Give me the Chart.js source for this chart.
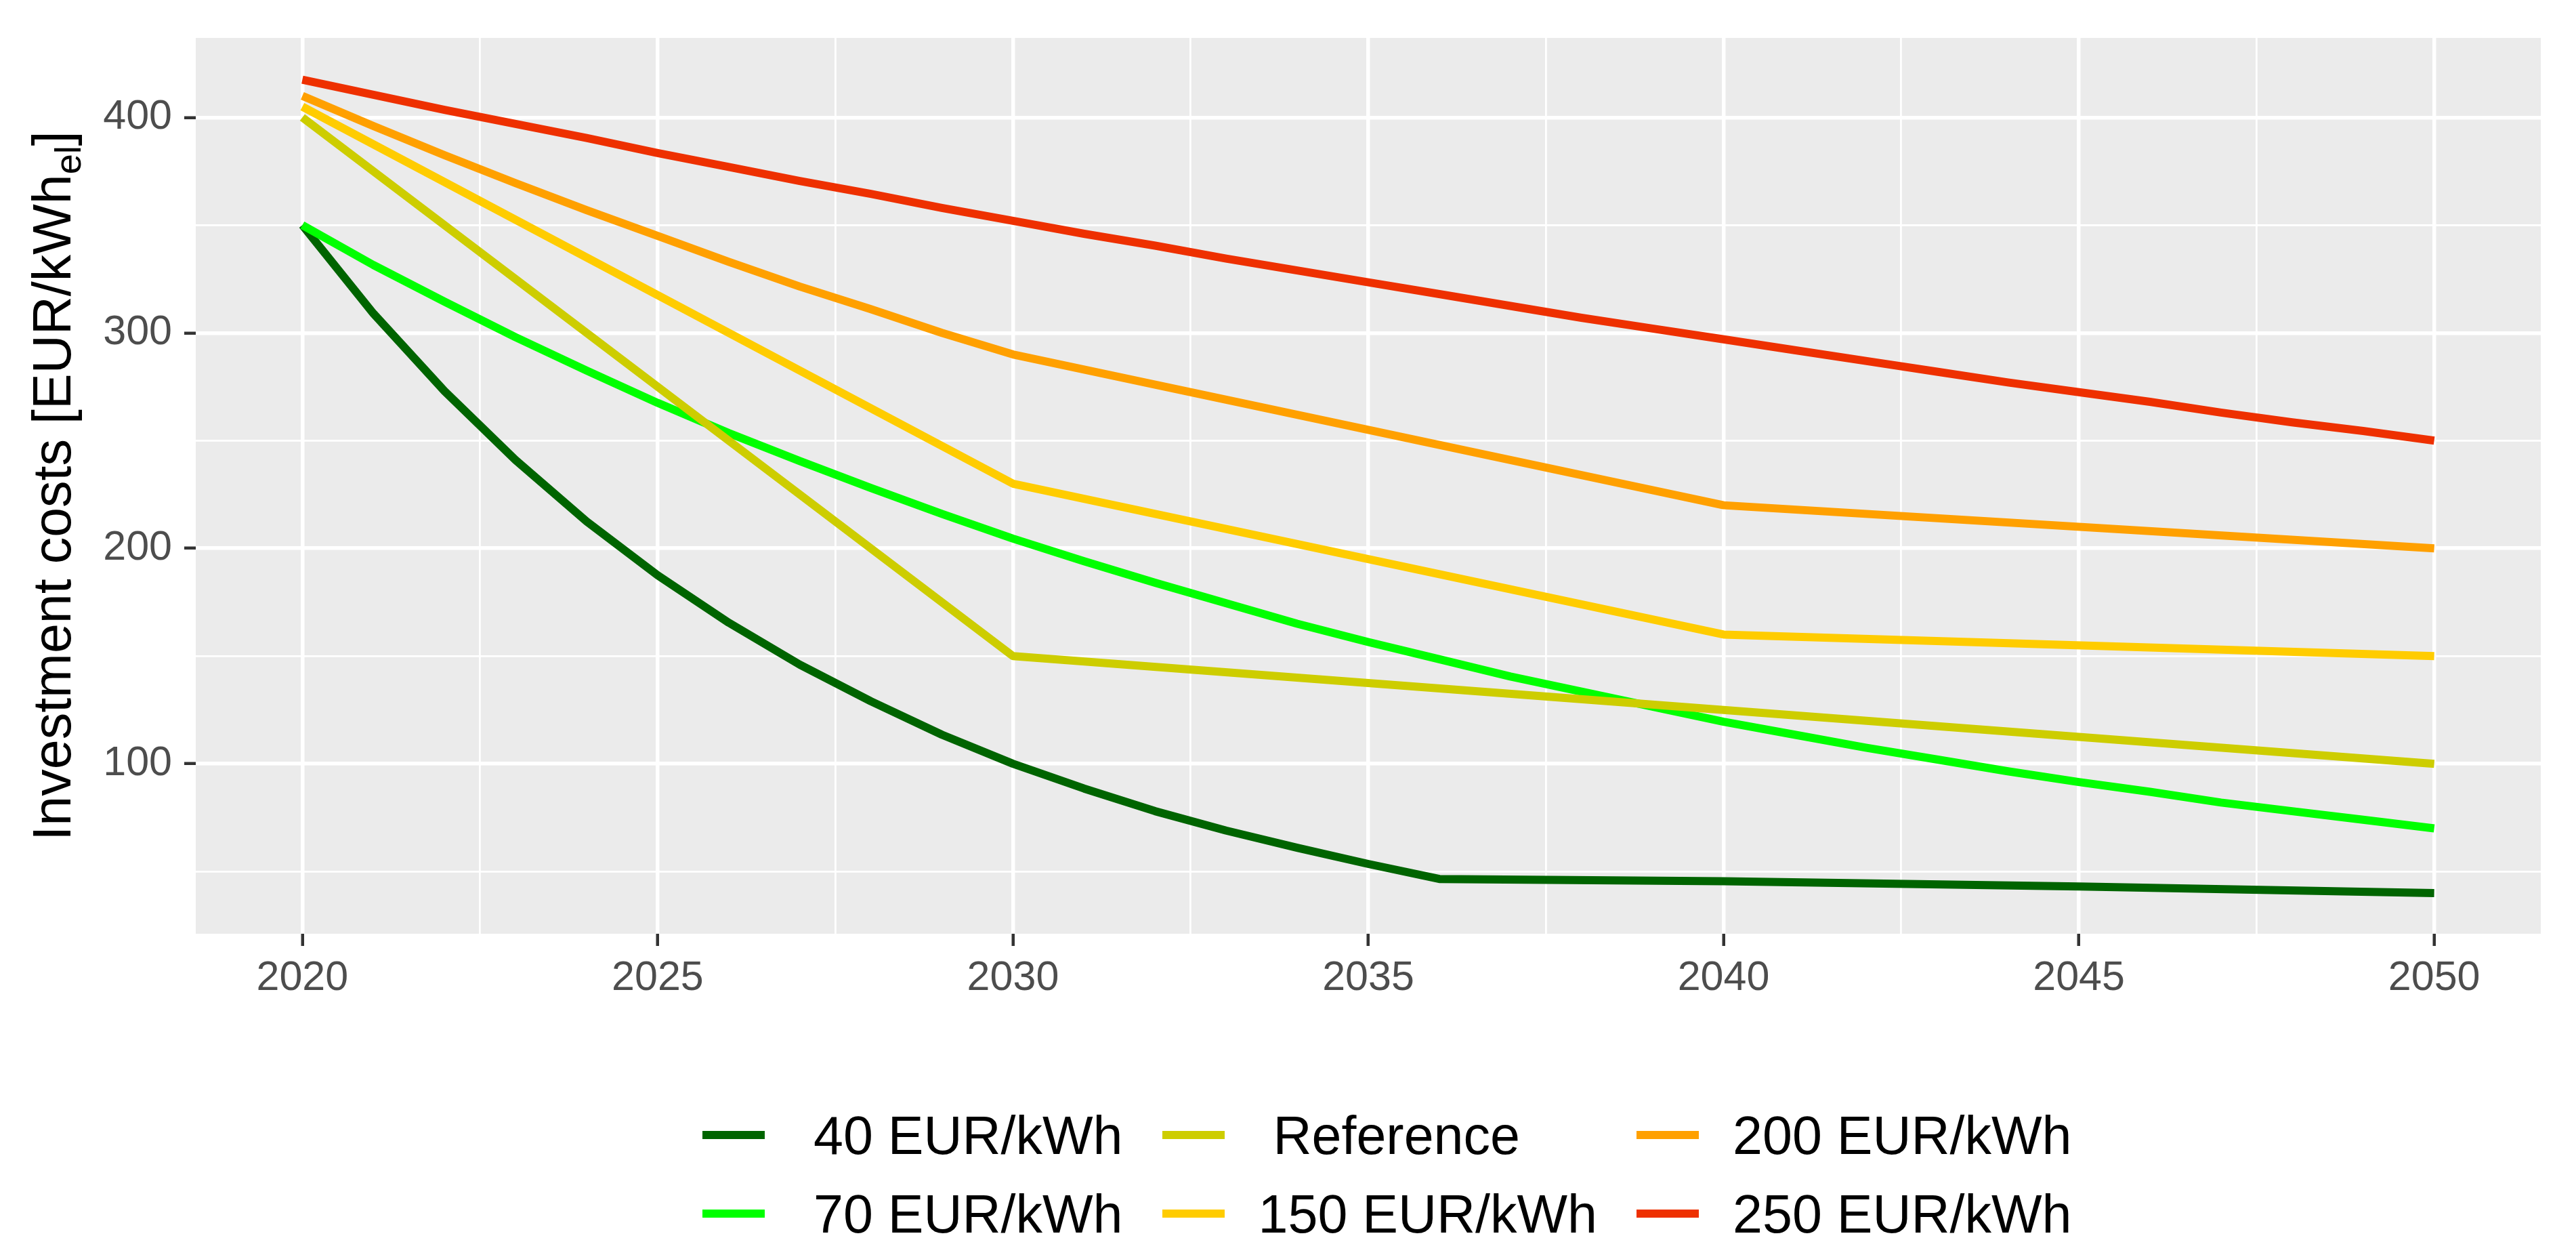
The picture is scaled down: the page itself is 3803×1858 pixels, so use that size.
<!DOCTYPE html>
<html lang="en">
<head>
  <meta charset="UTF-8">
  <title>Investment costs</title>
  <script src="https://cdn.jsdelivr.net/npm/chart.js"></script>
  <style>
    body {
      margin: 0;
      background-color: #fff;
    }

    #wrap {
      position: relative;
      width: 3803px;
      height: 1858px;
      font-family: "Liberation Sans", Arial, sans-serif;
    }

    #legend {
      position: absolute;
      left: 1037px;
      top: 1617px;
      display: grid;
      grid-template-rows: 116px 116px;
      grid-auto-flow: column;
      column-gap: 58px;
    }

    .item {
      display: flex;
      align-items: center;
    }

    .key {
      width: 92px;
      height: 12px;
      margin-right: 50px;
    }

    .lbl {
      font-size: 79px;
      line-height: 79px;
      white-space: pre;
      color: #000;
    }
  </style>
</head>

<body>
  <div id="wrap">
    <canvas id="costChart" width="3803" height="1858"></canvas>
    <div id="legend"></div>
  </div>

  <script>
    // years on the x axis
    const years = [2020, 2021, 2022, 2023, 2024, 2025, 2026, 2027, 2028, 2029, 2030,
      2031, 2032, 2033, 2034, 2035, 2036, 2037, 2038, 2039, 2040,
      2041, 2042, 2043, 2044, 2045, 2046, 2047, 2048, 2049, 2050];

    // investment costs per scenario (null = straight segment between read points)
    const cost40 = [350, 309, 273, 241, 212.5, 187.5, 165.5, 146, 129, 113.5, 100,
      88.5, 78, 69, 61, 53.5, 46.5, null, null, null, 45.5,
      null, null, null, null, 43, null, null, null, null, 40];
    const cost70 = [350, 331.5, 314.5, 298, 282.5, 267.5, 253.5, 240.5, 228, 216, 204.5,
      194, 184, 174.5, 165, 156.5, 148.5, 140.5, 133.5, 126.5, 119.5,
      113.5, 107.5, 102, 96.5, 91.5, 87, 82, 78, 74, 70];
    const costRef = [400, null, null, null, null, null, null, null, null, null, 150,
      null, null, null, null, null, null, null, null, null, null,
      null, null, null, null, null, null, null, null, null, 100];
    const cost150 = [405, null, null, null, null, null, null, null, null, null, 230,
      null, null, null, null, null, null, null, null, null, 160,
      null, null, null, null, null, null, null, null, null, 150];
    const cost200 = [410, 396, 382.5, 369.5, 357, 345, 333, 321.5, 311, 300, 290,
      null, null, null, null, null, null, null, null, null, 220,
      null, null, null, null, null, null, null, null, null, 200];
    const cost250 = [417.5, 410.5, 403.5, 397, 390.5, 383.5, 377, 370.5, 364.5, 358, 352,
      346, 340.5, 334.5, 329, 323.5, 318, 312.5, 307, 302, 297,
      292, 287, 282, 277, 272.5, 268, 263, 258.5, 254.5, 250];

    const seriesLabels = [' 40 EUR/kWh', ' 70 EUR/kWh', ' Reference', '150 EUR/kWh', '200 EUR/kWh', '250 EUR/kWh'];
    const seriesValues = [cost40, cost70, costRef, cost150, cost200, cost250];
    const seriesColors = ['#006400', '#00FF00', '#CDCD00', '#FFCC00', '#FFA000', '#EE3000'];

    // tick positions (major + minor)
    const xTicks = [2020, 2022.5, 2025, 2027.5, 2030, 2032.5, 2035, 2037.5, 2040, 2042.5, 2045, 2047.5, 2050];
    const yTicks = [50, 100, 150, 200, 250, 300, 350, 400];

    const panelBg = {
      id: 'panelBg',
      beforeDraw(chart) {
        const { ctx, chartArea: a } = chart;
        ctx.save();
        ctx.fillStyle = '#EBEBEB';
        ctx.fillRect(a.left, a.top, a.right - a.left, a.bottom - a.top);
        ctx.restore();
      }
    };

    // y title with subscript "el"
    const yTitle = {
      id: 'yTitle',
      afterDraw(chart) {
        const ctx = chart.ctx;
        const a = chart.chartArea;
        const main = 'Investment costs [EUR/kWh';
        const sub = 'el';
        const end = ']';
        const big = '79px "Liberation Sans", Arial, sans-serif';
        const small = '54px "Liberation Sans", Arial, sans-serif';
        ctx.save();
        ctx.fillStyle = '#000';
        ctx.textBaseline = 'alphabetic';
        ctx.font = big;
        const w1 = ctx.measureText(main).width;
        const w3 = ctx.measureText(end).width;
        ctx.font = small;
        const w2 = ctx.measureText(sub).width;
        ctx.translate(104, (a.top + a.bottom) / 2);
        ctx.rotate(-Math.PI / 2);
        let x = -(w1 + w2 + w3) / 2;
        ctx.font = big;
        ctx.fillText(main, x, 0);
        x += w1;
        ctx.font = small;
        ctx.fillText(sub, x, 15);
        x += w2;
        ctx.font = big;
        ctx.fillText(end, x, 0);
        ctx.restore();
      }
    };

    const datasets = seriesLabels.map((label, i) => ({
      label: label,
      data: years.map((yr, j) => ({ x: yr, y: seriesValues[i][j] })),
      borderColor: seriesColors[i],
      backgroundColor: seriesColors[i],
      borderWidth: 12,
      borderJoinStyle: 'round',
      pointRadius: 0,
      tension: 0,
      spanGaps: true,
      fill: false,
      order: seriesLabels.length - 1 - i
    }));

    const tickFont = { family: '"Liberation Sans", Arial, sans-serif', size: 61 };

    new Chart(document.getElementById('costChart').getContext('2d'), {
      type: 'line',
      data: { datasets: datasets },
      plugins: [panelBg, yTitle],
      options: {
        responsive: false,
        animation: false,
        devicePixelRatio: 1,
        layout: {
          padding: { left: 0, top: 56, right: 52, bottom: 360 }
        },
        plugins: {
          legend: { display: false },
          tooltip: { enabled: false }
        },
        scales: {
          x: {
            type: 'linear',
            min: 2018.5,
            max: 2051.5,
            afterBuildTicks: scale => { scale.ticks = xTicks.map(v => ({ value: v })); },
            afterFit: scale => { scale.height = 120; },
            border: { display: false },
            grid: {
              color: '#FFFFFF',
              lineWidth: ctx => (ctx.tick && ctx.tick.value % 5 === 0) ? 5.5 : 2.8,
              tickLength: 18,
              tickWidth: 4.5,
              tickColor: ctx => (ctx.tick && ctx.tick.value % 5 === 0) ? '#333333' : 'rgba(0,0,0,0)'
            },
            ticks: {
              autoSkip: false,
              maxRotation: 0,
              padding: 12,
              color: '#4D4D4D',
              font: tickFont,
              callback: v => (v % 5 === 0) ? String(v) : ''
            }
          },
          y: {
            min: 21.1,
            max: 436.9,
            afterBuildTicks: scale => { scale.ticks = yTicks.map(v => ({ value: v })); },
            afterFit: scale => { scale.width = 289; },
            border: { display: false },
            grid: {
              color: '#FFFFFF',
              lineWidth: ctx => (ctx.tick && ctx.tick.value % 100 === 0) ? 5.5 : 2.8,
              tickLength: 17,
              tickWidth: 4.5,
              tickColor: ctx => (ctx.tick && ctx.tick.value % 100 === 0) ? '#333333' : 'rgba(0,0,0,0)'
            },
            ticks: {
              autoSkip: false,
              padding: 18,
              color: '#4D4D4D',
              font: tickFont,
              callback: v => (v % 100 === 0) ? String(v) : ''
            }
          }
        }
      }
    });

    // legend, three columns of two rows
    const legend = document.getElementById('legend');
    seriesLabels.forEach((label, i) => {
      const item = document.createElement('div');
      item.className = 'item';
      const key = document.createElement('span');
      key.className = 'key';
      key.style.backgroundColor = seriesColors[i];
      const txt = document.createElement('span');
      txt.className = 'lbl';
      txt.textContent = label;
      item.appendChild(key);
      item.appendChild(txt);
      legend.appendChild(item);
    });
  </script>
</body>
</html>
